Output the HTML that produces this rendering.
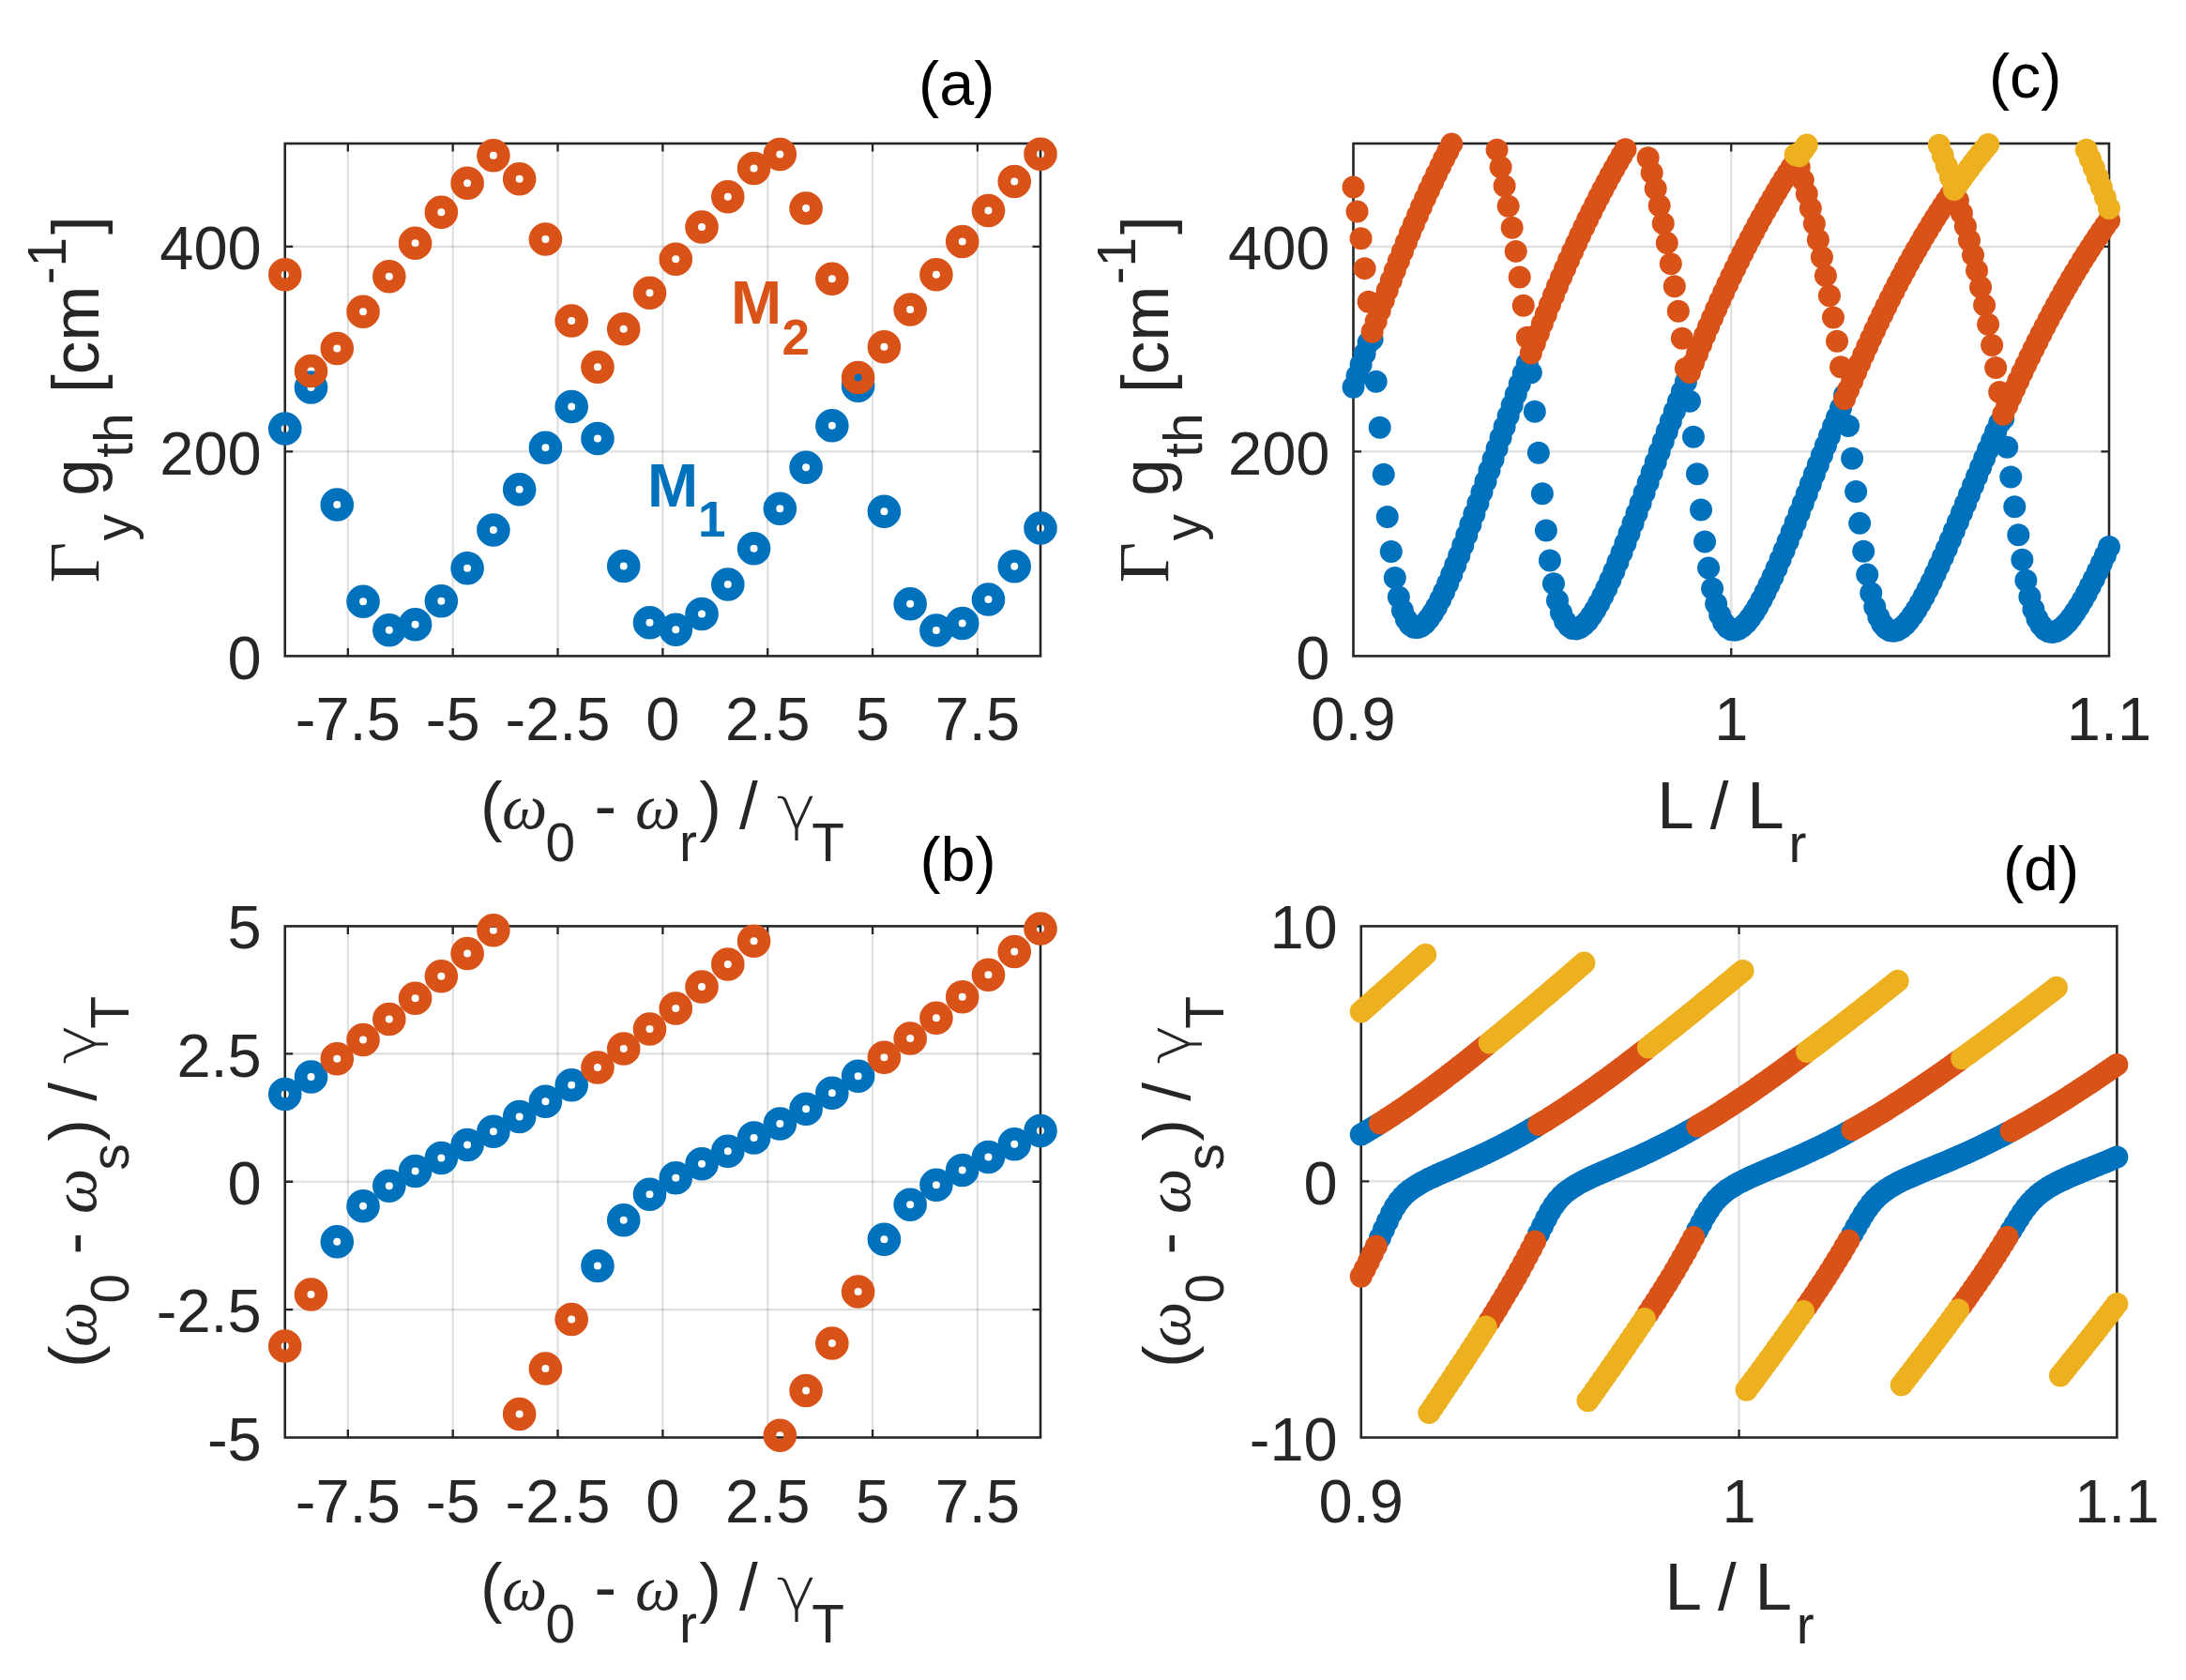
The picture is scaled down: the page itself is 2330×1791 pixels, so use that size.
<!DOCTYPE html><html><head><meta charset="utf-8"><title>Figure</title><style>html,body{margin:0;padding:0;background:#fff}svg{display:block}</style></head><body><svg width="2330" height="1791" viewBox="0 0 2330 1791">
<style>text{font-family:"Liberation Sans",Arial,Helvetica,sans-serif;fill:#262626}.tk{font-size:65px}.lb{font-size:70.4px}.sb{font-size:56.3px}.gr{font-family:"Liberation Serif","DejaVu Serif",serif;font-style:italic}.pl{font-size:66.5px;fill:#000}</style>
<rect width="2330" height="1791" fill="#fff"/>
<path d="M370.85 153V699.4M482.69 153V699.4M594.53 153V699.4M706.38 153V699.4M818.22 153V699.4M930.06 153V699.4M1041.9 153V699.4" stroke="#262626" stroke-opacity="0.15" stroke-width="2.2" fill="none"/>
<path d="M303.75 481.3H1109M303.75 262.8H1109" stroke="#262626" stroke-opacity="0.15" stroke-width="2.2" fill="none"/>
<path d="M370.85 699.4v-8.5M370.85 153v8.5M482.69 699.4v-8.5M482.69 153v8.5M594.53 699.4v-8.5M594.53 153v8.5M706.38 699.4v-8.5M706.38 153v8.5M818.22 699.4v-8.5M818.22 153v8.5M930.06 699.4v-8.5M930.06 153v8.5M1041.9 699.4v-8.5M1041.9 153v8.5M303.75 481.3h8.5M1109 481.3h-8.5M303.75 262.8h8.5M1109 262.8h-8.5" stroke="#262626" stroke-width="2.3" fill="none"/>
<rect x="303.75" y="153" width="805.25" height="546.4" fill="none" stroke="#262626" stroke-width="2.6"/>
<text x="370.85" y="789.4" text-anchor="middle" class="tk">-7.5</text>
<text x="482.69" y="789.4" text-anchor="middle" class="tk">-5</text>
<text x="594.53" y="789.4" text-anchor="middle" class="tk">-2.5</text>
<text x="706.38" y="789.4" text-anchor="middle" class="tk">0</text>
<text x="818.22" y="789.4" text-anchor="middle" class="tk">2.5</text>
<text x="930.06" y="789.4" text-anchor="middle" class="tk">5</text>
<text x="1041.9" y="789.4" text-anchor="middle" class="tk">7.5</text>
<text x="278.75" y="724" text-anchor="end" class="tk">0</text>
<text x="278.75" y="505.5" text-anchor="end" class="tk">200</text>
<text x="278.75" y="287" text-anchor="end" class="tk">400</text>
<path d="M370.85 987.4V1532.5M482.69 987.4V1532.5M594.53 987.4V1532.5M706.38 987.4V1532.5M818.22 987.4V1532.5M930.06 987.4V1532.5M1041.9 987.4V1532.5" stroke="#262626" stroke-opacity="0.15" stroke-width="2.2" fill="none"/>
<path d="M303.75 1396.12H1109M303.75 1259.75H1109M303.75 1123.38H1109" stroke="#262626" stroke-opacity="0.15" stroke-width="2.2" fill="none"/>
<path d="M370.85 1532.5v-8.5M370.85 987.4v8.5M482.69 1532.5v-8.5M482.69 987.4v8.5M594.53 1532.5v-8.5M594.53 987.4v8.5M706.38 1532.5v-8.5M706.38 987.4v8.5M818.22 1532.5v-8.5M818.22 987.4v8.5M930.06 1532.5v-8.5M930.06 987.4v8.5M1041.9 1532.5v-8.5M1041.9 987.4v8.5M303.75 1396.12h8.5M1109 1396.12h-8.5M303.75 1259.75h8.5M1109 1259.75h-8.5M303.75 1123.38h8.5M1109 1123.38h-8.5" stroke="#262626" stroke-width="2.3" fill="none"/>
<rect x="303.75" y="987.4" width="805.25" height="545.1" fill="none" stroke="#262626" stroke-width="2.6"/>
<text x="370.85" y="1622.5" text-anchor="middle" class="tk">-7.5</text>
<text x="482.69" y="1622.5" text-anchor="middle" class="tk">-5</text>
<text x="594.53" y="1622.5" text-anchor="middle" class="tk">-2.5</text>
<text x="706.38" y="1622.5" text-anchor="middle" class="tk">0</text>
<text x="818.22" y="1622.5" text-anchor="middle" class="tk">2.5</text>
<text x="930.06" y="1622.5" text-anchor="middle" class="tk">5</text>
<text x="1041.9" y="1622.5" text-anchor="middle" class="tk">7.5</text>
<text x="278.75" y="1556.7" text-anchor="end" class="tk">-5</text>
<text x="278.75" y="1420.33" text-anchor="end" class="tk">-2.5</text>
<text x="278.75" y="1283.95" text-anchor="end" class="tk">0</text>
<text x="278.75" y="1147.58" text-anchor="end" class="tk">2.5</text>
<text x="278.75" y="1011.2" text-anchor="end" class="tk">5</text>
<path d="M1845.25 153V699.4" stroke="#262626" stroke-opacity="0.15" stroke-width="2.2" fill="none"/>
<path d="M1442.5 481.3H2248M1442.5 262.8H2248" stroke="#262626" stroke-opacity="0.15" stroke-width="2.2" fill="none"/>
<path d="M1845.25 699.4v-8.5M1845.25 153v8.5M1442.5 481.3h8.5M2248 481.3h-8.5M1442.5 262.8h8.5M2248 262.8h-8.5" stroke="#262626" stroke-width="2.3" fill="none"/>
<rect x="1442.5" y="153" width="805.5" height="546.4" fill="none" stroke="#262626" stroke-width="2.6"/>
<text x="1442.5" y="789.4" text-anchor="middle" class="tk">0.9</text>
<text x="1845.25" y="789.4" text-anchor="middle" class="tk">1</text>
<text x="2248" y="789.4" text-anchor="middle" class="tk">1.1</text>
<text x="1417.5" y="724" text-anchor="end" class="tk">0</text>
<text x="1417.5" y="505.5" text-anchor="end" class="tk">200</text>
<text x="1417.5" y="287" text-anchor="end" class="tk">400</text>
<path d="M1853.57 987.4V1532.5" stroke="#262626" stroke-opacity="0.15" stroke-width="2.2" fill="none"/>
<path d="M1450.75 1259.4H2256.4" stroke="#262626" stroke-opacity="0.15" stroke-width="2.2" fill="none"/>
<path d="M1853.57 1532.5v-8.5M1853.57 987.4v8.5M1450.75 1259.4h8.5M2256.4 1259.4h-8.5" stroke="#262626" stroke-width="2.3" fill="none"/>
<rect x="1450.75" y="987.4" width="805.65" height="545.1" fill="none" stroke="#262626" stroke-width="2.6"/>
<text x="1450.75" y="1622.5" text-anchor="middle" class="tk">0.9</text>
<text x="1853.57" y="1622.5" text-anchor="middle" class="tk">1</text>
<text x="2256.4" y="1622.5" text-anchor="middle" class="tk">1.1</text>
<text x="1425.75" y="1556.6" text-anchor="end" class="tk">-10</text>
<text x="1425.75" y="1283.6" text-anchor="end" class="tk">0</text>
<text x="1425.75" y="1010.6" text-anchor="end" class="tk">10</text>
<g fill="none" stroke="#0072BD" stroke-width="13.8"><circle cx="303.75" cy="457" r="10.9"/><circle cx="331.52" cy="413" r="10.9"/><circle cx="359.28" cy="538" r="10.9"/><circle cx="387.05" cy="641.25" r="10.9"/><circle cx="414.82" cy="671.75" r="10.9"/><circle cx="442.59" cy="665.75" r="10.9"/><circle cx="470.35" cy="640.75" r="10.9"/><circle cx="498.12" cy="605.75" r="10.9"/><circle cx="525.89" cy="565" r="10.9"/><circle cx="553.66" cy="521.75" r="10.9"/><circle cx="581.42" cy="477.25" r="10.9"/><circle cx="609.19" cy="433.5" r="10.9"/><circle cx="636.96" cy="467.5" r="10.9"/><circle cx="664.72" cy="603.5" r="10.9"/><circle cx="692.49" cy="663.75" r="10.9"/><circle cx="720.26" cy="671.25" r="10.9"/><circle cx="748.03" cy="654.5" r="10.9"/><circle cx="775.79" cy="623" r="10.9"/><circle cx="803.56" cy="584.75" r="10.9"/><circle cx="831.33" cy="542.25" r="10.9"/><circle cx="859.09" cy="498.25" r="10.9"/><circle cx="886.86" cy="453.75" r="10.9"/><circle cx="914.63" cy="411.25" r="10.9"/><circle cx="942.4" cy="545.25" r="10.9"/><circle cx="970.16" cy="643.75" r="10.9"/><circle cx="997.93" cy="672" r="10.9"/><circle cx="1025.7" cy="664.5" r="10.9"/><circle cx="1053.47" cy="639" r="10.9"/><circle cx="1081.23" cy="603.75" r="10.9"/><circle cx="1109" cy="563" r="10.9"/></g>
<g fill="none" stroke="#D95319" stroke-width="13.8"><circle cx="303.75" cy="292.75" r="10.9"/><circle cx="331.52" cy="395.5" r="10.9"/><circle cx="359.28" cy="371.5" r="10.9"/><circle cx="387.05" cy="332.25" r="10.9"/><circle cx="414.82" cy="294.75" r="10.9"/><circle cx="442.59" cy="259.25" r="10.9"/><circle cx="470.35" cy="226.25" r="10.9"/><circle cx="498.12" cy="195.25" r="10.9"/><circle cx="525.89" cy="165.75" r="10.9"/><circle cx="553.66" cy="190.75" r="10.9"/><circle cx="581.42" cy="255" r="10.9"/><circle cx="609.19" cy="342" r="10.9"/><circle cx="636.96" cy="391.25" r="10.9"/><circle cx="664.72" cy="350.75" r="10.9"/><circle cx="692.49" cy="312.25" r="10.9"/><circle cx="720.26" cy="276.25" r="10.9"/><circle cx="748.03" cy="242" r="10.9"/><circle cx="775.79" cy="209.75" r="10.9"/><circle cx="803.56" cy="179.5" r="10.9"/><circle cx="831.33" cy="164.5" r="10.9"/><circle cx="859.09" cy="222" r="10.9"/><circle cx="886.86" cy="297.25" r="10.9"/><circle cx="914.63" cy="402.5" r="10.9"/><circle cx="942.4" cy="369.75" r="10.9"/><circle cx="970.16" cy="330" r="10.9"/><circle cx="997.93" cy="292.75" r="10.9"/><circle cx="1025.7" cy="257.5" r="10.9"/><circle cx="1053.47" cy="224.5" r="10.9"/><circle cx="1081.23" cy="193.5" r="10.9"/><circle cx="1109" cy="164.25" r="10.9"/></g>
<g fill="none" stroke="#0072BD" stroke-width="13.8"><circle cx="303.75" cy="1166.5" r="10.9"/><circle cx="331.52" cy="1148" r="10.9"/><circle cx="359.28" cy="1323.75" r="10.9"/><circle cx="387.05" cy="1285.75" r="10.9"/><circle cx="414.82" cy="1264.25" r="10.9"/><circle cx="442.59" cy="1248.5" r="10.9"/><circle cx="470.35" cy="1234.5" r="10.9"/><circle cx="498.12" cy="1220.5" r="10.9"/><circle cx="525.89" cy="1206.25" r="10.9"/><circle cx="553.66" cy="1190.5" r="10.9"/><circle cx="581.42" cy="1174.25" r="10.9"/><circle cx="609.19" cy="1156.75" r="10.9"/><circle cx="636.96" cy="1349.5" r="10.9"/><circle cx="664.72" cy="1300.75" r="10.9"/><circle cx="692.49" cy="1273.25" r="10.9"/><circle cx="720.26" cy="1255.75" r="10.9"/><circle cx="748.03" cy="1240.75" r="10.9"/><circle cx="775.79" cy="1227.25" r="10.9"/><circle cx="803.56" cy="1213" r="10.9"/><circle cx="831.33" cy="1198" r="10.9"/><circle cx="859.09" cy="1182.25" r="10.9"/><circle cx="886.86" cy="1165.25" r="10.9"/><circle cx="914.63" cy="1147.25" r="10.9"/><circle cx="942.4" cy="1321.25" r="10.9"/><circle cx="970.16" cy="1284.25" r="10.9"/><circle cx="997.93" cy="1263.25" r="10.9"/><circle cx="1025.7" cy="1247.5" r="10.9"/><circle cx="1053.47" cy="1233.5" r="10.9"/><circle cx="1081.23" cy="1219.75" r="10.9"/><circle cx="1109" cy="1205.5" r="10.9"/></g>
<g fill="none" stroke="#D95319" stroke-width="13.8"><circle cx="303.75" cy="1435" r="10.9"/><circle cx="331.52" cy="1380" r="10.9"/><circle cx="359.28" cy="1128.75" r="10.9"/><circle cx="387.05" cy="1108.5" r="10.9"/><circle cx="414.82" cy="1086.5" r="10.9"/><circle cx="442.59" cy="1064.25" r="10.9"/><circle cx="470.35" cy="1040.75" r="10.9"/><circle cx="498.12" cy="1016.5" r="10.9"/><circle cx="525.89" cy="991.75" r="10.9"/><circle cx="553.66" cy="1507.5" r="10.9"/><circle cx="581.42" cy="1459" r="10.9"/><circle cx="609.19" cy="1406.5" r="10.9"/><circle cx="636.96" cy="1138" r="10.9"/><circle cx="664.72" cy="1118" r="10.9"/><circle cx="692.49" cy="1097" r="10.9"/><circle cx="720.26" cy="1075" r="10.9"/><circle cx="748.03" cy="1052" r="10.9"/><circle cx="775.79" cy="1028" r="10.9"/><circle cx="803.56" cy="1003.25" r="10.9"/><circle cx="831.33" cy="1530.25" r="10.9"/><circle cx="859.09" cy="1482.5" r="10.9"/><circle cx="886.86" cy="1432" r="10.9"/><circle cx="914.63" cy="1377" r="10.9"/><circle cx="942.4" cy="1127.25" r="10.9"/><circle cx="970.16" cy="1107" r="10.9"/><circle cx="997.93" cy="1085.25" r="10.9"/><circle cx="1025.7" cy="1062.75" r="10.9"/><circle cx="1053.47" cy="1039.25" r="10.9"/><circle cx="1081.23" cy="1014.5" r="10.9"/><circle cx="1109" cy="990" r="10.9"/></g>
<g fill="#0072BD"><circle cx="1442.5" cy="412.75" r="12.0"/><circle cx="1446.53" cy="400.68" r="12.0"/><circle cx="1450.56" cy="388.74" r="12.0"/><circle cx="1454.58" cy="376.95" r="12.0"/><circle cx="1458.61" cy="365.3" r="12.0"/><circle cx="1462.64" cy="361.83" r="12.0"/><circle cx="1466.66" cy="406.8" r="12.0"/><circle cx="1470.69" cy="455.84" r="12.0"/><circle cx="1474.72" cy="505.67" r="12.0"/><circle cx="1478.75" cy="551.04" r="12.0"/><circle cx="1482.78" cy="588.06" r="12.0"/><circle cx="1486.8" cy="616.11" r="12.0"/><circle cx="1490.83" cy="636.46" r="12.0"/><circle cx="1494.86" cy="650.69" r="12.0"/><circle cx="1498.88" cy="660.17" r="12.0"/><circle cx="1502.91" cy="665.92" r="12.0"/><circle cx="1506.94" cy="668.69" r="12.0"/><circle cx="1510.97" cy="669.05" r="12.0"/><circle cx="1515" cy="667.45" r="12.0"/><circle cx="1519.02" cy="664.2" r="12.0"/><circle cx="1523.05" cy="659.57" r="12.0"/><circle cx="1527.08" cy="653.78" r="12.0"/><circle cx="1531.11" cy="646.99" r="12.0"/><circle cx="1535.13" cy="639.35" r="12.0"/><circle cx="1539.16" cy="630.99" r="12.0"/><circle cx="1543.19" cy="622" r="12.0"/><circle cx="1547.22" cy="612.48" r="12.0"/><circle cx="1551.24" cy="602.5" r="12.0"/><circle cx="1555.27" cy="592.13" r="12.0"/><circle cx="1559.3" cy="581.44" r="12.0"/><circle cx="1563.33" cy="570.48" r="12.0"/><circle cx="1567.35" cy="559.3" r="12.0"/><circle cx="1571.38" cy="547.95" r="12.0"/><circle cx="1575.41" cy="536.46" r="12.0"/><circle cx="1579.44" cy="524.87" r="12.0"/><circle cx="1583.46" cy="513.21" r="12.0"/><circle cx="1587.49" cy="501.52" r="12.0"/><circle cx="1591.52" cy="489.82" r="12.0"/><circle cx="1595.55" cy="478.13" r="12.0"/><circle cx="1599.57" cy="466.48" r="12.0"/><circle cx="1603.6" cy="454.89" r="12.0"/><circle cx="1607.63" cy="443.37" r="12.0"/><circle cx="1611.66" cy="431.94" r="12.0"/><circle cx="1615.68" cy="420.62" r="12.0"/><circle cx="1619.71" cy="409.4" r="12.0"/><circle cx="1623.74" cy="398.32" r="12.0"/><circle cx="1627.77" cy="387.37" r="12.0"/><circle cx="1631.79" cy="397.32" r="12.0"/><circle cx="1635.82" cy="438.75" r="12.0"/><circle cx="1639.85" cy="482.76" r="12.0"/><circle cx="1643.88" cy="526.31" r="12.0"/><circle cx="1647.9" cy="565.43" r="12.0"/><circle cx="1651.93" cy="597.5" r="12.0"/><circle cx="1655.96" cy="622.17" r="12.0"/><circle cx="1659.99" cy="640.36" r="12.0"/><circle cx="1664.01" cy="653.28" r="12.0"/><circle cx="1668.04" cy="661.99" r="12.0"/><circle cx="1672.07" cy="667.35" r="12.0"/><circle cx="1676.1" cy="670" r="12.0"/><circle cx="1680.12" cy="670.44" r="12.0"/><circle cx="1684.15" cy="669.04" r="12.0"/><circle cx="1688.18" cy="666.11" r="12.0"/><circle cx="1692.2" cy="661.9" r="12.0"/><circle cx="1696.23" cy="656.58" r="12.0"/><circle cx="1700.26" cy="650.32" r="12.0"/><circle cx="1704.29" cy="643.26" r="12.0"/><circle cx="1708.31" cy="635.51" r="12.0"/><circle cx="1712.34" cy="627.16" r="12.0"/><circle cx="1716.37" cy="618.31" r="12.0"/><circle cx="1720.4" cy="609.02" r="12.0"/><circle cx="1724.42" cy="599.36" r="12.0"/><circle cx="1728.45" cy="589.38" r="12.0"/><circle cx="1732.48" cy="579.15" r="12.0"/><circle cx="1736.51" cy="568.7" r="12.0"/><circle cx="1740.53" cy="558.08" r="12.0"/><circle cx="1744.56" cy="547.33" r="12.0"/><circle cx="1748.59" cy="536.48" r="12.0"/><circle cx="1752.62" cy="525.56" r="12.0"/><circle cx="1756.64" cy="514.6" r="12.0"/><circle cx="1760.67" cy="503.62" r="12.0"/><circle cx="1764.7" cy="492.65" r="12.0"/><circle cx="1768.73" cy="481.71" r="12.0"/><circle cx="1772.75" cy="470.82" r="12.0"/><circle cx="1776.78" cy="460" r="12.0"/><circle cx="1780.81" cy="449.25" r="12.0"/><circle cx="1784.84" cy="438.59" r="12.0"/><circle cx="1788.86" cy="428.04" r="12.0"/><circle cx="1792.89" cy="417.6" r="12.0"/><circle cx="1796.92" cy="407.28" r="12.0"/><circle cx="1800.95" cy="427.78" r="12.0"/><circle cx="1804.97" cy="465.77" r="12.0"/><circle cx="1809" cy="505.21" r="12.0"/><circle cx="1813.03" cy="543.45" r="12.0"/><circle cx="1817.06" cy="577.52" r="12.0"/><circle cx="1821.08" cy="605.6" r="12.0"/><circle cx="1825.11" cy="627.48" r="12.0"/><circle cx="1829.14" cy="643.85" r="12.0"/><circle cx="1833.17" cy="655.62" r="12.0"/><circle cx="1837.19" cy="663.66" r="12.0"/><circle cx="1841.22" cy="668.67" r="12.0"/><circle cx="1845.25" cy="671.2" r="12.0"/><circle cx="1849.28" cy="671.7" r="12.0"/><circle cx="1853.3" cy="670.49" r="12.0"/><circle cx="1857.33" cy="667.85" r="12.0"/><circle cx="1861.36" cy="663.99" r="12.0"/><circle cx="1865.39" cy="659.1" r="12.0"/><circle cx="1869.41" cy="653.33" r="12.0"/><circle cx="1873.44" cy="646.79" r="12.0"/><circle cx="1877.47" cy="639.59" r="12.0"/><circle cx="1881.5" cy="631.82" r="12.0"/><circle cx="1885.52" cy="623.57" r="12.0"/><circle cx="1889.55" cy="614.9" r="12.0"/><circle cx="1893.58" cy="605.88" r="12.0"/><circle cx="1897.61" cy="596.56" r="12.0"/><circle cx="1901.63" cy="586.98" r="12.0"/><circle cx="1905.66" cy="577.19" r="12.0"/><circle cx="1909.69" cy="567.24" r="12.0"/><circle cx="1913.72" cy="557.16" r="12.0"/><circle cx="1917.74" cy="546.97" r="12.0"/><circle cx="1921.77" cy="536.72" r="12.0"/><circle cx="1925.8" cy="526.42" r="12.0"/><circle cx="1929.83" cy="516.1" r="12.0"/><circle cx="1933.85" cy="505.79" r="12.0"/><circle cx="1937.88" cy="495.49" r="12.0"/><circle cx="1941.91" cy="485.24" r="12.0"/><circle cx="1945.94" cy="475.04" r="12.0"/><circle cx="1949.96" cy="464.91" r="12.0"/><circle cx="1953.99" cy="454.86" r="12.0"/><circle cx="1958.02" cy="444.91" r="12.0"/><circle cx="1962.05" cy="435.06" r="12.0"/><circle cx="1966.07" cy="421.33" r="12.0"/><circle cx="1970.1" cy="454.02" r="12.0"/><circle cx="1974.13" cy="488.75" r="12.0"/><circle cx="1978.16" cy="524.1" r="12.0"/><circle cx="1982.18" cy="557.87" r="12.0"/><circle cx="1986.21" cy="587.8" r="12.0"/><circle cx="1990.24" cy="612.62" r="12.0"/><circle cx="1994.27" cy="632.17" r="12.0"/><circle cx="1998.29" cy="646.97" r="12.0"/><circle cx="2002.32" cy="657.74" r="12.0"/><circle cx="2006.35" cy="665.18" r="12.0"/><circle cx="2010.38" cy="669.88" r="12.0"/><circle cx="2014.4" cy="672.31" r="12.0"/><circle cx="2018.43" cy="672.85" r="12.0"/><circle cx="2022.46" cy="671.8" r="12.0"/><circle cx="2026.49" cy="669.42" r="12.0"/><circle cx="2030.51" cy="665.89" r="12.0"/><circle cx="2034.54" cy="661.39" r="12.0"/><circle cx="2038.57" cy="656.04" r="12.0"/><circle cx="2042.6" cy="649.97" r="12.0"/><circle cx="2046.62" cy="643.28" r="12.0"/><circle cx="2050.65" cy="636.04" r="12.0"/><circle cx="2054.68" cy="628.34" r="12.0"/><circle cx="2058.71" cy="620.23" r="12.0"/><circle cx="2062.73" cy="611.79" r="12.0"/><circle cx="2066.76" cy="603.05" r="12.0"/><circle cx="2070.79" cy="594.07" r="12.0"/><circle cx="2074.82" cy="584.89" r="12.0"/><circle cx="2078.84" cy="575.55" r="12.0"/><circle cx="2082.87" cy="566.07" r="12.0"/><circle cx="2086.9" cy="556.49" r="12.0"/><circle cx="2090.93" cy="546.85" r="12.0"/><circle cx="2094.95" cy="537.15" r="12.0"/><circle cx="2098.98" cy="527.43" r="12.0"/><circle cx="2103.01" cy="517.71" r="12.0"/><circle cx="2107.04" cy="508.01" r="12.0"/><circle cx="2111.07" cy="498.33" r="12.0"/><circle cx="2115.09" cy="488.71" r="12.0"/><circle cx="2119.12" cy="479.14" r="12.0"/><circle cx="2123.15" cy="469.65" r="12.0"/><circle cx="2127.18" cy="460.24" r="12.0"/><circle cx="2131.2" cy="450.93" r="12.0"/><circle cx="2135.23" cy="446.39" r="12.0"/><circle cx="2139.26" cy="476.7" r="12.0"/><circle cx="2143.28" cy="508.4" r="12.0"/><circle cx="2147.31" cy="540.16" r="12.0"/><circle cx="2151.34" cy="570.14" r="12.0"/><circle cx="2155.37" cy="596.66" r="12.0"/><circle cx="2159.39" cy="618.76" r="12.0"/><circle cx="2163.42" cy="636.33" r="12.0"/><circle cx="2167.45" cy="649.78" r="12.0"/><circle cx="2171.48" cy="659.68" r="12.0"/><circle cx="2175.51" cy="666.58" r="12.0"/><circle cx="2179.53" cy="671" r="12.0"/><circle cx="2183.56" cy="673.33" r="12.0"/><circle cx="2187.59" cy="673.91" r="12.0"/><circle cx="2191.61" cy="673.01" r="12.0"/><circle cx="2195.64" cy="670.85" r="12.0"/><circle cx="2199.67" cy="667.62" r="12.0"/><circle cx="2203.7" cy="663.46" r="12.0"/><circle cx="2207.72" cy="658.51" r="12.0"/><circle cx="2211.75" cy="652.86" r="12.0"/><circle cx="2215.78" cy="646.62" r="12.0"/><circle cx="2219.81" cy="639.87" r="12.0"/><circle cx="2223.84" cy="632.66" r="12.0"/><circle cx="2227.86" cy="625.07" r="12.0"/><circle cx="2231.89" cy="617.16" r="12.0"/><circle cx="2235.92" cy="608.96" r="12.0"/><circle cx="2239.95" cy="600.53" r="12.0"/><circle cx="2243.97" cy="591.89" r="12.0"/><circle cx="2248" cy="583.1" r="12.0"/></g>
<g fill="#D95319"><circle cx="1442.5" cy="199.46" r="12.0"/><circle cx="1446.53" cy="225.6" r="12.0"/><circle cx="1450.56" cy="254.3" r="12.0"/><circle cx="1454.58" cy="286.13" r="12.0"/><circle cx="1458.61" cy="321.74" r="12.0"/><circle cx="1462.64" cy="353.81" r="12.0"/><circle cx="1466.66" cy="342.48" r="12.0"/><circle cx="1470.69" cy="331.33" r="12.0"/><circle cx="1474.72" cy="320.35" r="12.0"/><circle cx="1478.75" cy="309.55" r="12.0"/><circle cx="1482.78" cy="298.93" r="12.0"/><circle cx="1486.8" cy="288.49" r="12.0"/><circle cx="1490.83" cy="278.24" r="12.0"/><circle cx="1494.86" cy="268.17" r="12.0"/><circle cx="1498.88" cy="258.29" r="12.0"/><circle cx="1502.91" cy="248.59" r="12.0"/><circle cx="1506.94" cy="239.08" r="12.0"/><circle cx="1510.97" cy="229.75" r="12.0"/><circle cx="1515" cy="220.59" r="12.0"/><circle cx="1519.02" cy="211.62" r="12.0"/><circle cx="1523.05" cy="202.83" r="12.0"/><circle cx="1527.08" cy="194.21" r="12.0"/><circle cx="1531.11" cy="185.76" r="12.0"/><circle cx="1535.13" cy="177.48" r="12.0"/><circle cx="1539.16" cy="169.36" r="12.0"/><circle cx="1543.19" cy="161.41" r="12.0"/><circle cx="1547.22" cy="153.62" r="12.0"/><circle cx="1595.55" cy="159.68" r="12.0"/><circle cx="1599.57" cy="178.34" r="12.0"/><circle cx="1603.6" cy="198.27" r="12.0"/><circle cx="1607.63" cy="219.65" r="12.0"/><circle cx="1611.66" cy="242.75" r="12.0"/><circle cx="1615.68" cy="267.88" r="12.0"/><circle cx="1619.71" cy="295.43" r="12.0"/><circle cx="1623.74" cy="325.86" r="12.0"/><circle cx="1627.77" cy="359.68" r="12.0"/><circle cx="1631.79" cy="376.56" r="12.0"/><circle cx="1635.82" cy="365.91" r="12.0"/><circle cx="1639.85" cy="355.41" r="12.0"/><circle cx="1643.88" cy="345.06" r="12.0"/><circle cx="1647.9" cy="334.89" r="12.0"/><circle cx="1651.93" cy="324.87" r="12.0"/><circle cx="1655.96" cy="315.03" r="12.0"/><circle cx="1659.99" cy="305.36" r="12.0"/><circle cx="1664.01" cy="295.85" r="12.0"/><circle cx="1668.04" cy="286.52" r="12.0"/><circle cx="1672.07" cy="277.35" r="12.0"/><circle cx="1676.1" cy="268.36" r="12.0"/><circle cx="1680.12" cy="259.53" r="12.0"/><circle cx="1684.15" cy="250.87" r="12.0"/><circle cx="1688.18" cy="242.38" r="12.0"/><circle cx="1692.2" cy="234.05" r="12.0"/><circle cx="1696.23" cy="225.88" r="12.0"/><circle cx="1700.26" cy="217.87" r="12.0"/><circle cx="1704.29" cy="210.01" r="12.0"/><circle cx="1708.31" cy="202.31" r="12.0"/><circle cx="1712.34" cy="194.76" r="12.0"/><circle cx="1716.37" cy="187.36" r="12.0"/><circle cx="1720.4" cy="180.11" r="12.0"/><circle cx="1724.42" cy="173" r="12.0"/><circle cx="1728.45" cy="166.03" r="12.0"/><circle cx="1732.48" cy="159.19" r="12.0"/><circle cx="1756.64" cy="168.29" r="12.0"/><circle cx="1760.67" cy="184.28" r="12.0"/><circle cx="1764.7" cy="201.2" r="12.0"/><circle cx="1768.73" cy="219.18" r="12.0"/><circle cx="1772.75" cy="238.36" r="12.0"/><circle cx="1776.78" cy="258.94" r="12.0"/><circle cx="1780.81" cy="281.16" r="12.0"/><circle cx="1784.84" cy="305.29" r="12.0"/><circle cx="1788.86" cy="331.66" r="12.0"/><circle cx="1792.89" cy="360.66" r="12.0"/><circle cx="1796.92" cy="392.63" r="12.0"/><circle cx="1800.95" cy="397.1" r="12.0"/><circle cx="1804.97" cy="387.05" r="12.0"/><circle cx="1809" cy="377.14" r="12.0"/><circle cx="1813.03" cy="367.38" r="12.0"/><circle cx="1817.06" cy="357.76" r="12.0"/><circle cx="1821.08" cy="348.3" r="12.0"/><circle cx="1825.11" cy="339" r="12.0"/><circle cx="1829.14" cy="329.85" r="12.0"/><circle cx="1833.17" cy="320.86" r="12.0"/><circle cx="1837.19" cy="312.02" r="12.0"/><circle cx="1841.22" cy="303.34" r="12.0"/><circle cx="1845.25" cy="294.82" r="12.0"/><circle cx="1849.28" cy="286.45" r="12.0"/><circle cx="1853.3" cy="278.24" r="12.0"/><circle cx="1857.33" cy="270.18" r="12.0"/><circle cx="1861.36" cy="262.28" r="12.0"/><circle cx="1865.39" cy="254.52" r="12.0"/><circle cx="1869.41" cy="246.91" r="12.0"/><circle cx="1873.44" cy="239.44" r="12.0"/><circle cx="1877.47" cy="232.12" r="12.0"/><circle cx="1881.5" cy="224.94" r="12.0"/><circle cx="1885.52" cy="217.9" r="12.0"/><circle cx="1889.55" cy="211" r="12.0"/><circle cx="1893.58" cy="204.22" r="12.0"/><circle cx="1897.61" cy="197.58" r="12.0"/><circle cx="1901.63" cy="191.07" r="12.0"/><circle cx="1905.66" cy="184.68" r="12.0"/><circle cx="1909.69" cy="178.42" r="12.0"/><circle cx="1913.72" cy="172.27" r="12.0"/><circle cx="1917.74" cy="178.17" r="12.0"/><circle cx="1921.77" cy="192.09" r="12.0"/><circle cx="1925.8" cy="206.71" r="12.0"/><circle cx="1929.83" cy="222.12" r="12.0"/><circle cx="1933.85" cy="238.41" r="12.0"/><circle cx="1937.88" cy="255.73" r="12.0"/><circle cx="1941.91" cy="274.2" r="12.0"/><circle cx="1945.94" cy="294" r="12.0"/><circle cx="1949.96" cy="315.34" r="12.0"/><circle cx="1953.99" cy="338.47" r="12.0"/><circle cx="1958.02" cy="363.67" r="12.0"/><circle cx="1962.05" cy="391.21" r="12.0"/><circle cx="1966.07" cy="425.32" r="12.0"/><circle cx="1970.1" cy="415.7" r="12.0"/><circle cx="1974.13" cy="406.2" r="12.0"/><circle cx="1978.16" cy="396.83" r="12.0"/><circle cx="1982.18" cy="387.6" r="12.0"/><circle cx="1986.21" cy="378.5" r="12.0"/><circle cx="1990.24" cy="369.54" r="12.0"/><circle cx="1994.27" cy="360.73" r="12.0"/><circle cx="1998.29" cy="352.06" r="12.0"/><circle cx="2002.32" cy="343.53" r="12.0"/><circle cx="2006.35" cy="335.15" r="12.0"/><circle cx="2010.38" cy="326.92" r="12.0"/><circle cx="2014.4" cy="318.83" r="12.0"/><circle cx="2018.43" cy="310.88" r="12.0"/><circle cx="2022.46" cy="303.08" r="12.0"/><circle cx="2026.49" cy="295.42" r="12.0"/><circle cx="2030.51" cy="287.9" r="12.0"/><circle cx="2034.54" cy="280.52" r="12.0"/><circle cx="2038.57" cy="273.28" r="12.0"/><circle cx="2042.6" cy="266.17" r="12.0"/><circle cx="2046.62" cy="259.2" r="12.0"/><circle cx="2050.65" cy="252.36" r="12.0"/><circle cx="2054.68" cy="245.65" r="12.0"/><circle cx="2058.71" cy="239.06" r="12.0"/><circle cx="2062.73" cy="232.6" r="12.0"/><circle cx="2066.76" cy="226.26" r="12.0"/><circle cx="2070.79" cy="220.05" r="12.0"/><circle cx="2074.82" cy="213.95" r="12.0"/><circle cx="2078.84" cy="207.96" r="12.0"/><circle cx="2082.87" cy="201.03" r="12.0"/><circle cx="2086.9" cy="213.83" r="12.0"/><circle cx="2090.93" cy="227.24" r="12.0"/><circle cx="2094.95" cy="241.32" r="12.0"/><circle cx="2098.98" cy="256.17" r="12.0"/><circle cx="2103.01" cy="271.88" r="12.0"/><circle cx="2107.04" cy="288.55" r="12.0"/><circle cx="2111.07" cy="306.33" r="12.0"/><circle cx="2115.09" cy="325.37" r="12.0"/><circle cx="2119.12" cy="345.86" r="12.0"/><circle cx="2123.15" cy="368" r="12.0"/><circle cx="2127.18" cy="392.01" r="12.0"/><circle cx="2131.2" cy="418.11" r="12.0"/><circle cx="2135.23" cy="441.71" r="12.0"/><circle cx="2139.26" cy="432.61" r="12.0"/><circle cx="2143.28" cy="423.61" r="12.0"/><circle cx="2147.31" cy="414.74" r="12.0"/><circle cx="2151.34" cy="405.99" r="12.0"/><circle cx="2155.37" cy="397.36" r="12.0"/><circle cx="2159.39" cy="388.87" r="12.0"/><circle cx="2163.42" cy="380.5" r="12.0"/><circle cx="2167.45" cy="372.27" r="12.0"/><circle cx="2171.48" cy="364.17" r="12.0"/><circle cx="2175.51" cy="356.21" r="12.0"/><circle cx="2179.53" cy="348.38" r="12.0"/><circle cx="2183.56" cy="340.69" r="12.0"/><circle cx="2187.59" cy="333.13" r="12.0"/><circle cx="2191.61" cy="325.71" r="12.0"/><circle cx="2195.64" cy="318.41" r="12.0"/><circle cx="2199.67" cy="311.25" r="12.0"/><circle cx="2203.7" cy="304.22" r="12.0"/><circle cx="2207.72" cy="297.32" r="12.0"/><circle cx="2211.75" cy="290.54" r="12.0"/><circle cx="2215.78" cy="283.89" r="12.0"/><circle cx="2219.81" cy="277.36" r="12.0"/><circle cx="2223.84" cy="270.95" r="12.0"/><circle cx="2227.86" cy="264.66" r="12.0"/><circle cx="2231.89" cy="258.49" r="12.0"/><circle cx="2235.92" cy="252.43" r="12.0"/><circle cx="2239.95" cy="246.48" r="12.0"/><circle cx="2243.97" cy="240.65" r="12.0"/><circle cx="2248" cy="234.92" r="12.0"/></g>
<g fill="#EDB120"><circle cx="1913.72" cy="164.89" r="12.0"/><circle cx="1917.74" cy="166.24" r="12.0"/><circle cx="1921.77" cy="160.33" r="12.0"/><circle cx="1925.8" cy="154.54" r="12.0"/><circle cx="2066.76" cy="154.83" r="12.0"/><circle cx="2070.79" cy="165.72" r="12.0"/><circle cx="2074.82" cy="177.02" r="12.0"/><circle cx="2078.84" cy="188.78" r="12.0"/><circle cx="2082.87" cy="202.09" r="12.0"/><circle cx="2086.9" cy="196.33" r="12.0"/><circle cx="2090.93" cy="190.67" r="12.0"/><circle cx="2094.95" cy="185.12" r="12.0"/><circle cx="2098.98" cy="179.68" r="12.0"/><circle cx="2103.01" cy="174.34" r="12.0"/><circle cx="2107.04" cy="169.09" r="12.0"/><circle cx="2111.07" cy="163.95" r="12.0"/><circle cx="2115.09" cy="158.89" r="12.0"/><circle cx="2119.12" cy="153.93" r="12.0"/><circle cx="2223.84" cy="159.84" r="12.0"/><circle cx="2227.86" cy="169.32" r="12.0"/><circle cx="2231.89" cy="179.1" r="12.0"/><circle cx="2235.92" cy="189.23" r="12.0"/><circle cx="2239.95" cy="199.72" r="12.0"/><circle cx="2243.97" cy="210.62" r="12.0"/><circle cx="2248" cy="221.95" r="12.0"/></g>
<g fill="#0072BD"><circle cx="1450.75" cy="1209.51" r="12.0"/><circle cx="1454.78" cy="1207.18" r="12.0"/><circle cx="1458.81" cy="1204.8" r="12.0"/><circle cx="1462.83" cy="1202.38" r="12.0"/><circle cx="1466.86" cy="1199.93" r="12.0"/><circle cx="1470.89" cy="1319.68" r="12.0"/><circle cx="1474.92" cy="1310.77" r="12.0"/><circle cx="1478.95" cy="1301.92" r="12.0"/><circle cx="1482.98" cy="1293.63" r="12.0"/><circle cx="1487" cy="1286.42" r="12.0"/><circle cx="1491.03" cy="1280.52" r="12.0"/><circle cx="1495.06" cy="1275.76" r="12.0"/><circle cx="1499.09" cy="1271.86" r="12.0"/><circle cx="1503.12" cy="1268.57" r="12.0"/><circle cx="1507.15" cy="1265.7" r="12.0"/><circle cx="1511.17" cy="1263.15" r="12.0"/><circle cx="1515.2" cy="1260.82" r="12.0"/><circle cx="1519.23" cy="1258.65" r="12.0"/><circle cx="1523.26" cy="1256.62" r="12.0"/><circle cx="1527.29" cy="1254.67" r="12.0"/><circle cx="1531.32" cy="1252.79" r="12.0"/><circle cx="1535.34" cy="1250.96" r="12.0"/><circle cx="1539.37" cy="1249.17" r="12.0"/><circle cx="1543.4" cy="1247.4" r="12.0"/><circle cx="1547.43" cy="1245.64" r="12.0"/><circle cx="1551.46" cy="1243.89" r="12.0"/><circle cx="1555.48" cy="1242.13" r="12.0"/><circle cx="1559.51" cy="1240.37" r="12.0"/><circle cx="1563.54" cy="1238.6" r="12.0"/><circle cx="1567.57" cy="1236.8" r="12.0"/><circle cx="1571.6" cy="1234.99" r="12.0"/><circle cx="1575.63" cy="1233.15" r="12.0"/><circle cx="1579.65" cy="1231.28" r="12.0"/><circle cx="1583.68" cy="1229.39" r="12.0"/><circle cx="1587.71" cy="1227.46" r="12.0"/><circle cx="1591.74" cy="1225.5" r="12.0"/><circle cx="1595.77" cy="1223.5" r="12.0"/><circle cx="1599.8" cy="1221.47" r="12.0"/><circle cx="1603.82" cy="1219.4" r="12.0"/><circle cx="1607.85" cy="1217.29" r="12.0"/><circle cx="1611.88" cy="1215.15" r="12.0"/><circle cx="1615.91" cy="1212.97" r="12.0"/><circle cx="1619.94" cy="1210.75" r="12.0"/><circle cx="1623.96" cy="1208.49" r="12.0"/><circle cx="1627.99" cy="1206.19" r="12.0"/><circle cx="1632.02" cy="1203.85" r="12.0"/><circle cx="1636.05" cy="1201.48" r="12.0"/><circle cx="1640.08" cy="1315.29" r="12.0"/><circle cx="1644.11" cy="1307.07" r="12.0"/><circle cx="1648.13" cy="1299.03" r="12.0"/><circle cx="1652.16" cy="1291.59" r="12.0"/><circle cx="1656.19" cy="1285.13" r="12.0"/><circle cx="1660.22" cy="1279.75" r="12.0"/><circle cx="1664.25" cy="1275.32" r="12.0"/><circle cx="1668.28" cy="1271.61" r="12.0"/><circle cx="1672.3" cy="1268.45" r="12.0"/><circle cx="1676.33" cy="1265.67" r="12.0"/><circle cx="1680.36" cy="1263.18" r="12.0"/><circle cx="1684.39" cy="1260.9" r="12.0"/><circle cx="1688.42" cy="1258.77" r="12.0"/><circle cx="1692.44" cy="1256.77" r="12.0"/><circle cx="1696.47" cy="1254.85" r="12.0"/><circle cx="1700.5" cy="1253" r="12.0"/><circle cx="1704.53" cy="1251.2" r="12.0"/><circle cx="1708.56" cy="1249.44" r="12.0"/><circle cx="1712.59" cy="1247.69" r="12.0"/><circle cx="1716.61" cy="1245.96" r="12.0"/><circle cx="1720.64" cy="1244.24" r="12.0"/><circle cx="1724.67" cy="1242.52" r="12.0"/><circle cx="1728.7" cy="1240.79" r="12.0"/><circle cx="1732.73" cy="1239.05" r="12.0"/><circle cx="1736.76" cy="1237.29" r="12.0"/><circle cx="1740.78" cy="1235.51" r="12.0"/><circle cx="1744.81" cy="1233.71" r="12.0"/><circle cx="1748.84" cy="1231.89" r="12.0"/><circle cx="1752.87" cy="1230.04" r="12.0"/><circle cx="1756.9" cy="1228.16" r="12.0"/><circle cx="1760.93" cy="1226.25" r="12.0"/><circle cx="1764.95" cy="1224.3" r="12.0"/><circle cx="1768.98" cy="1222.33" r="12.0"/><circle cx="1773.01" cy="1220.32" r="12.0"/><circle cx="1777.04" cy="1218.27" r="12.0"/><circle cx="1781.07" cy="1216.19" r="12.0"/><circle cx="1785.09" cy="1214.07" r="12.0"/><circle cx="1789.12" cy="1211.92" r="12.0"/><circle cx="1793.15" cy="1209.73" r="12.0"/><circle cx="1797.18" cy="1207.5" r="12.0"/><circle cx="1801.21" cy="1205.24" r="12.0"/><circle cx="1805.24" cy="1202.95" r="12.0"/><circle cx="1809.26" cy="1311.52" r="12.0"/><circle cx="1813.29" cy="1303.94" r="12.0"/><circle cx="1817.32" cy="1296.61" r="12.0"/><circle cx="1821.35" cy="1289.89" r="12.0"/><circle cx="1825.38" cy="1284.02" r="12.0"/><circle cx="1829.41" cy="1279.06" r="12.0"/><circle cx="1833.43" cy="1274.91" r="12.0"/><circle cx="1837.46" cy="1271.39" r="12.0"/><circle cx="1841.49" cy="1268.34" r="12.0"/><circle cx="1845.52" cy="1265.64" r="12.0"/><circle cx="1849.55" cy="1263.21" r="12.0"/><circle cx="1853.57" cy="1260.97" r="12.0"/><circle cx="1857.6" cy="1258.89" r="12.0"/><circle cx="1861.63" cy="1256.92" r="12.0"/><circle cx="1865.66" cy="1255.03" r="12.0"/><circle cx="1869.69" cy="1253.21" r="12.0"/><circle cx="1873.72" cy="1251.43" r="12.0"/><circle cx="1877.74" cy="1249.69" r="12.0"/><circle cx="1881.77" cy="1247.98" r="12.0"/><circle cx="1885.8" cy="1246.28" r="12.0"/><circle cx="1889.83" cy="1244.58" r="12.0"/><circle cx="1893.86" cy="1242.89" r="12.0"/><circle cx="1897.89" cy="1241.19" r="12.0"/><circle cx="1901.91" cy="1239.48" r="12.0"/><circle cx="1905.94" cy="1237.76" r="12.0"/><circle cx="1909.97" cy="1236.02" r="12.0"/><circle cx="1914" cy="1234.26" r="12.0"/><circle cx="1918.03" cy="1232.47" r="12.0"/><circle cx="1922.06" cy="1230.66" r="12.0"/><circle cx="1926.08" cy="1228.83" r="12.0"/><circle cx="1930.11" cy="1226.96" r="12.0"/><circle cx="1934.14" cy="1225.07" r="12.0"/><circle cx="1938.17" cy="1223.15" r="12.0"/><circle cx="1942.2" cy="1221.19" r="12.0"/><circle cx="1946.22" cy="1219.2" r="12.0"/><circle cx="1950.25" cy="1217.18" r="12.0"/><circle cx="1954.28" cy="1215.12" r="12.0"/><circle cx="1958.31" cy="1213.03" r="12.0"/><circle cx="1962.34" cy="1210.9" r="12.0"/><circle cx="1966.37" cy="1208.75" r="12.0"/><circle cx="1970.39" cy="1206.56" r="12.0"/><circle cx="1974.42" cy="1315.37" r="12.0"/><circle cx="1978.45" cy="1308.27" r="12.0"/><circle cx="1982.48" cy="1301.26" r="12.0"/><circle cx="1986.51" cy="1294.56" r="12.0"/><circle cx="1990.54" cy="1288.43" r="12.0"/><circle cx="1994.56" cy="1283.05" r="12.0"/><circle cx="1998.59" cy="1278.45" r="12.0"/><circle cx="2002.62" cy="1274.54" r="12.0"/><circle cx="2006.65" cy="1271.17" r="12.0"/><circle cx="2010.68" cy="1268.23" r="12.0"/><circle cx="2014.7" cy="1265.62" r="12.0"/><circle cx="2018.73" cy="1263.24" r="12.0"/><circle cx="2022.76" cy="1261.05" r="12.0"/><circle cx="2026.79" cy="1259" r="12.0"/><circle cx="2030.82" cy="1257.06" r="12.0"/><circle cx="2034.85" cy="1255.2" r="12.0"/><circle cx="2038.87" cy="1253.4" r="12.0"/><circle cx="2042.9" cy="1251.66" r="12.0"/><circle cx="2046.93" cy="1249.94" r="12.0"/><circle cx="2050.96" cy="1248.25" r="12.0"/><circle cx="2054.99" cy="1246.58" r="12.0"/><circle cx="2059.02" cy="1244.91" r="12.0"/><circle cx="2063.04" cy="1243.24" r="12.0"/><circle cx="2067.07" cy="1241.58" r="12.0"/><circle cx="2071.1" cy="1239.9" r="12.0"/><circle cx="2075.13" cy="1238.21" r="12.0"/><circle cx="2079.16" cy="1236.5" r="12.0"/><circle cx="2083.19" cy="1234.78" r="12.0"/><circle cx="2087.21" cy="1233.03" r="12.0"/><circle cx="2091.24" cy="1231.26" r="12.0"/><circle cx="2095.27" cy="1229.47" r="12.0"/><circle cx="2099.3" cy="1227.65" r="12.0"/><circle cx="2103.33" cy="1225.8" r="12.0"/><circle cx="2107.35" cy="1223.93" r="12.0"/><circle cx="2111.38" cy="1222.02" r="12.0"/><circle cx="2115.41" cy="1220.08" r="12.0"/><circle cx="2119.44" cy="1218.11" r="12.0"/><circle cx="2123.47" cy="1216.12" r="12.0"/><circle cx="2127.5" cy="1214.08" r="12.0"/><circle cx="2131.52" cy="1212.02" r="12.0"/><circle cx="2135.55" cy="1209.93" r="12.0"/><circle cx="2139.58" cy="1207.8" r="12.0"/><circle cx="2143.61" cy="1312.08" r="12.0"/><circle cx="2147.64" cy="1305.45" r="12.0"/><circle cx="2151.67" cy="1298.96" r="12.0"/><circle cx="2155.69" cy="1292.8" r="12.0"/><circle cx="2159.72" cy="1287.17" r="12.0"/><circle cx="2163.75" cy="1282.2" r="12.0"/><circle cx="2167.78" cy="1277.9" r="12.0"/><circle cx="2171.81" cy="1274.2" r="12.0"/><circle cx="2175.84" cy="1270.98" r="12.0"/><circle cx="2179.86" cy="1268.14" r="12.0"/><circle cx="2183.89" cy="1265.59" r="12.0"/><circle cx="2187.92" cy="1263.27" r="12.0"/><circle cx="2191.95" cy="1261.12" r="12.0"/><circle cx="2195.98" cy="1259.11" r="12.0"/><circle cx="2200" cy="1257.2" r="12.0"/><circle cx="2204.03" cy="1255.37" r="12.0"/><circle cx="2208.06" cy="1253.6" r="12.0"/><circle cx="2212.09" cy="1251.87" r="12.0"/><circle cx="2216.12" cy="1250.18" r="12.0"/><circle cx="2220.15" cy="1248.52" r="12.0"/><circle cx="2224.17" cy="1246.87" r="12.0"/><circle cx="2228.2" cy="1245.23" r="12.0"/><circle cx="2232.23" cy="1243.59" r="12.0"/><circle cx="2236.26" cy="1241.95" r="12.0"/><circle cx="2240.29" cy="1240.3" r="12.0"/><circle cx="2244.32" cy="1238.64" r="12.0"/><circle cx="2248.34" cy="1236.97" r="12.0"/><circle cx="2252.37" cy="1235.28" r="12.0"/><circle cx="2256.4" cy="1233.57" r="12.0"/></g>
<g fill="#D95319"><circle cx="1450.75" cy="1360.64" r="12.0"/><circle cx="1454.78" cy="1352.92" r="12.0"/><circle cx="1458.81" cy="1345" r="12.0"/><circle cx="1462.83" cy="1336.83" r="12.0"/><circle cx="1466.86" cy="1328.39" r="12.0"/><circle cx="1470.89" cy="1197.43" r="12.0"/><circle cx="1474.92" cy="1194.89" r="12.0"/><circle cx="1478.95" cy="1192.32" r="12.0"/><circle cx="1482.98" cy="1189.71" r="12.0"/><circle cx="1487" cy="1187.06" r="12.0"/><circle cx="1491.03" cy="1184.37" r="12.0"/><circle cx="1495.06" cy="1181.65" r="12.0"/><circle cx="1499.09" cy="1178.9" r="12.0"/><circle cx="1503.12" cy="1176.11" r="12.0"/><circle cx="1507.15" cy="1173.29" r="12.0"/><circle cx="1511.17" cy="1170.44" r="12.0"/><circle cx="1515.2" cy="1167.56" r="12.0"/><circle cx="1519.23" cy="1164.65" r="12.0"/><circle cx="1523.26" cy="1161.71" r="12.0"/><circle cx="1527.29" cy="1158.74" r="12.0"/><circle cx="1531.32" cy="1155.75" r="12.0"/><circle cx="1535.34" cy="1152.73" r="12.0"/><circle cx="1539.37" cy="1149.69" r="12.0"/><circle cx="1543.4" cy="1146.62" r="12.0"/><circle cx="1547.43" cy="1143.53" r="12.0"/><circle cx="1551.46" cy="1140.42" r="12.0"/><circle cx="1555.48" cy="1137.29" r="12.0"/><circle cx="1559.51" cy="1134.14" r="12.0"/><circle cx="1563.54" cy="1130.97" r="12.0"/><circle cx="1567.57" cy="1127.78" r="12.0"/><circle cx="1571.6" cy="1124.57" r="12.0"/><circle cx="1575.63" cy="1121.35" r="12.0"/><circle cx="1579.65" cy="1118.11" r="12.0"/><circle cx="1583.68" cy="1114.85" r="12.0"/><circle cx="1587.71" cy="1408.13" r="12.0"/><circle cx="1591.74" cy="1401.67" r="12.0"/><circle cx="1595.77" cy="1395.15" r="12.0"/><circle cx="1599.8" cy="1388.55" r="12.0"/><circle cx="1603.82" cy="1381.87" r="12.0"/><circle cx="1607.85" cy="1375.08" r="12.0"/><circle cx="1611.88" cy="1368.19" r="12.0"/><circle cx="1615.91" cy="1361.16" r="12.0"/><circle cx="1619.94" cy="1353.99" r="12.0"/><circle cx="1623.96" cy="1346.65" r="12.0"/><circle cx="1627.99" cy="1339.12" r="12.0"/><circle cx="1632.02" cy="1331.38" r="12.0"/><circle cx="1636.05" cy="1323.43" r="12.0"/><circle cx="1640.08" cy="1199.07" r="12.0"/><circle cx="1644.11" cy="1196.62" r="12.0"/><circle cx="1648.13" cy="1194.14" r="12.0"/><circle cx="1652.16" cy="1191.62" r="12.0"/><circle cx="1656.19" cy="1189.07" r="12.0"/><circle cx="1660.22" cy="1186.48" r="12.0"/><circle cx="1664.25" cy="1183.86" r="12.0"/><circle cx="1668.28" cy="1181.21" r="12.0"/><circle cx="1672.3" cy="1178.52" r="12.0"/><circle cx="1676.33" cy="1175.81" r="12.0"/><circle cx="1680.36" cy="1173.06" r="12.0"/><circle cx="1684.39" cy="1170.29" r="12.0"/><circle cx="1688.42" cy="1167.49" r="12.0"/><circle cx="1692.44" cy="1164.67" r="12.0"/><circle cx="1696.47" cy="1161.82" r="12.0"/><circle cx="1700.5" cy="1158.94" r="12.0"/><circle cx="1704.53" cy="1156.04" r="12.0"/><circle cx="1708.56" cy="1153.11" r="12.0"/><circle cx="1712.59" cy="1150.17" r="12.0"/><circle cx="1716.61" cy="1147.2" r="12.0"/><circle cx="1720.64" cy="1144.21" r="12.0"/><circle cx="1724.67" cy="1141.2" r="12.0"/><circle cx="1728.7" cy="1138.18" r="12.0"/><circle cx="1732.73" cy="1135.13" r="12.0"/><circle cx="1736.76" cy="1132.07" r="12.0"/><circle cx="1740.78" cy="1128.99" r="12.0"/><circle cx="1744.81" cy="1125.89" r="12.0"/><circle cx="1748.84" cy="1122.78" r="12.0"/><circle cx="1752.87" cy="1119.66" r="12.0"/><circle cx="1756.9" cy="1399.78" r="12.0"/><circle cx="1760.93" cy="1393.61" r="12.0"/><circle cx="1764.95" cy="1387.38" r="12.0"/><circle cx="1768.98" cy="1381.07" r="12.0"/><circle cx="1773.01" cy="1374.69" r="12.0"/><circle cx="1777.04" cy="1368.21" r="12.0"/><circle cx="1781.07" cy="1361.62" r="12.0"/><circle cx="1785.09" cy="1354.92" r="12.0"/><circle cx="1789.12" cy="1348.08" r="12.0"/><circle cx="1793.15" cy="1341.09" r="12.0"/><circle cx="1797.18" cy="1333.94" r="12.0"/><circle cx="1801.21" cy="1326.61" r="12.0"/><circle cx="1805.24" cy="1319.12" r="12.0"/><circle cx="1809.26" cy="1200.62" r="12.0"/><circle cx="1813.29" cy="1198.25" r="12.0"/><circle cx="1817.32" cy="1195.85" r="12.0"/><circle cx="1821.35" cy="1193.42" r="12.0"/><circle cx="1825.38" cy="1190.95" r="12.0"/><circle cx="1829.41" cy="1188.46" r="12.0"/><circle cx="1833.43" cy="1185.93" r="12.0"/><circle cx="1837.46" cy="1183.37" r="12.0"/><circle cx="1841.49" cy="1180.78" r="12.0"/><circle cx="1845.52" cy="1178.17" r="12.0"/><circle cx="1849.55" cy="1175.52" r="12.0"/><circle cx="1853.57" cy="1172.85" r="12.0"/><circle cx="1857.6" cy="1170.16" r="12.0"/><circle cx="1861.63" cy="1167.44" r="12.0"/><circle cx="1865.66" cy="1164.69" r="12.0"/><circle cx="1869.69" cy="1161.92" r="12.0"/><circle cx="1873.72" cy="1159.13" r="12.0"/><circle cx="1877.74" cy="1156.31" r="12.0"/><circle cx="1881.77" cy="1153.48" r="12.0"/><circle cx="1885.8" cy="1150.62" r="12.0"/><circle cx="1889.83" cy="1147.75" r="12.0"/><circle cx="1893.86" cy="1144.85" r="12.0"/><circle cx="1897.89" cy="1141.94" r="12.0"/><circle cx="1901.91" cy="1139.01" r="12.0"/><circle cx="1905.94" cy="1136.06" r="12.0"/><circle cx="1909.97" cy="1133.1" r="12.0"/><circle cx="1914" cy="1130.12" r="12.0"/><circle cx="1918.03" cy="1127.13" r="12.0"/><circle cx="1922.06" cy="1124.13" r="12.0"/><circle cx="1926.08" cy="1392.23" r="12.0"/><circle cx="1930.11" cy="1386.33" r="12.0"/><circle cx="1934.14" cy="1380.37" r="12.0"/><circle cx="1938.17" cy="1374.33" r="12.0"/><circle cx="1942.2" cy="1368.22" r="12.0"/><circle cx="1946.22" cy="1362.02" r="12.0"/><circle cx="1950.25" cy="1355.73" r="12.0"/><circle cx="1954.28" cy="1349.33" r="12.0"/><circle cx="1958.31" cy="1342.8" r="12.0"/><circle cx="1962.34" cy="1336.15" r="12.0"/><circle cx="1966.37" cy="1329.35" r="12.0"/><circle cx="1970.39" cy="1322.42" r="12.0"/><circle cx="1974.42" cy="1204.33" r="12.0"/><circle cx="1978.45" cy="1202.08" r="12.0"/><circle cx="1982.48" cy="1199.79" r="12.0"/><circle cx="1986.51" cy="1197.47" r="12.0"/><circle cx="1990.54" cy="1195.11" r="12.0"/><circle cx="1994.56" cy="1192.73" r="12.0"/><circle cx="1998.59" cy="1190.32" r="12.0"/><circle cx="2002.62" cy="1187.88" r="12.0"/><circle cx="2006.65" cy="1185.41" r="12.0"/><circle cx="2010.68" cy="1182.91" r="12.0"/><circle cx="2014.7" cy="1180.38" r="12.0"/><circle cx="2018.73" cy="1177.83" r="12.0"/><circle cx="2022.76" cy="1175.25" r="12.0"/><circle cx="2026.79" cy="1172.65" r="12.0"/><circle cx="2030.82" cy="1170.03" r="12.0"/><circle cx="2034.85" cy="1167.38" r="12.0"/><circle cx="2038.87" cy="1164.71" r="12.0"/><circle cx="2042.9" cy="1162.02" r="12.0"/><circle cx="2046.93" cy="1159.3" r="12.0"/><circle cx="2050.96" cy="1156.57" r="12.0"/><circle cx="2054.99" cy="1153.82" r="12.0"/><circle cx="2059.02" cy="1151.05" r="12.0"/><circle cx="2063.04" cy="1148.26" r="12.0"/><circle cx="2067.07" cy="1145.45" r="12.0"/><circle cx="2071.1" cy="1142.63" r="12.0"/><circle cx="2075.13" cy="1139.79" r="12.0"/><circle cx="2079.16" cy="1136.94" r="12.0"/><circle cx="2083.19" cy="1134.07" r="12.0"/><circle cx="2087.21" cy="1131.19" r="12.0"/><circle cx="2091.24" cy="1391" r="12.0"/><circle cx="2095.27" cy="1385.39" r="12.0"/><circle cx="2099.3" cy="1379.74" r="12.0"/><circle cx="2103.33" cy="1374.02" r="12.0"/><circle cx="2107.35" cy="1368.24" r="12.0"/><circle cx="2111.38" cy="1362.38" r="12.0"/><circle cx="2115.41" cy="1356.45" r="12.0"/><circle cx="2119.44" cy="1350.42" r="12.0"/><circle cx="2123.47" cy="1344.3" r="12.0"/><circle cx="2127.5" cy="1338.07" r="12.0"/><circle cx="2131.52" cy="1331.73" r="12.0"/><circle cx="2135.55" cy="1325.28" r="12.0"/><circle cx="2139.58" cy="1318.71" r="12.0"/><circle cx="2143.61" cy="1205.64" r="12.0"/><circle cx="2147.64" cy="1203.46" r="12.0"/><circle cx="2151.67" cy="1201.24" r="12.0"/><circle cx="2155.69" cy="1198.99" r="12.0"/><circle cx="2159.72" cy="1196.71" r="12.0"/><circle cx="2163.75" cy="1194.41" r="12.0"/><circle cx="2167.78" cy="1192.07" r="12.0"/><circle cx="2171.81" cy="1189.71" r="12.0"/><circle cx="2175.84" cy="1187.32" r="12.0"/><circle cx="2179.86" cy="1184.91" r="12.0"/><circle cx="2183.89" cy="1182.47" r="12.0"/><circle cx="2187.92" cy="1180" r="12.0"/><circle cx="2191.95" cy="1177.51" r="12.0"/><circle cx="2195.98" cy="1175" r="12.0"/><circle cx="2200" cy="1172.46" r="12.0"/><circle cx="2204.03" cy="1169.91" r="12.0"/><circle cx="2208.06" cy="1167.33" r="12.0"/><circle cx="2212.09" cy="1164.73" r="12.0"/><circle cx="2216.12" cy="1162.11" r="12.0"/><circle cx="2220.15" cy="1159.47" r="12.0"/><circle cx="2224.17" cy="1156.82" r="12.0"/><circle cx="2228.2" cy="1154.14" r="12.0"/><circle cx="2232.23" cy="1151.45" r="12.0"/><circle cx="2236.26" cy="1148.74" r="12.0"/><circle cx="2240.29" cy="1146.02" r="12.0"/><circle cx="2244.32" cy="1143.28" r="12.0"/><circle cx="2248.34" cy="1140.53" r="12.0"/><circle cx="2252.37" cy="1137.76" r="12.0"/><circle cx="2256.4" cy="1134.98" r="12.0"/></g>
<g fill="#EDB120"><circle cx="1450.75" cy="1078.48" r="12.0"/><circle cx="1454.78" cy="1074.96" r="12.0"/><circle cx="1458.81" cy="1071.43" r="12.0"/><circle cx="1462.83" cy="1067.89" r="12.0"/><circle cx="1466.86" cy="1064.34" r="12.0"/><circle cx="1470.89" cy="1060.78" r="12.0"/><circle cx="1474.92" cy="1057.22" r="12.0"/><circle cx="1478.95" cy="1053.65" r="12.0"/><circle cx="1482.98" cy="1050.07" r="12.0"/><circle cx="1487" cy="1046.48" r="12.0"/><circle cx="1491.03" cy="1042.89" r="12.0"/><circle cx="1495.06" cy="1039.3" r="12.0"/><circle cx="1499.09" cy="1035.7" r="12.0"/><circle cx="1503.12" cy="1032.09" r="12.0"/><circle cx="1507.15" cy="1028.48" r="12.0"/><circle cx="1511.17" cy="1024.87" r="12.0"/><circle cx="1515.2" cy="1021.25" r="12.0"/><circle cx="1519.23" cy="1017.63" r="12.0"/><circle cx="1523.26" cy="1506.12" r="12.0"/><circle cx="1527.29" cy="1500.16" r="12.0"/><circle cx="1531.32" cy="1494.19" r="12.0"/><circle cx="1535.34" cy="1488.21" r="12.0"/><circle cx="1539.37" cy="1482.21" r="12.0"/><circle cx="1543.4" cy="1476.19" r="12.0"/><circle cx="1547.43" cy="1470.15" r="12.0"/><circle cx="1551.46" cy="1464.1" r="12.0"/><circle cx="1555.48" cy="1458.01" r="12.0"/><circle cx="1559.51" cy="1451.9" r="12.0"/><circle cx="1563.54" cy="1445.77" r="12.0"/><circle cx="1567.57" cy="1439.6" r="12.0"/><circle cx="1571.6" cy="1433.39" r="12.0"/><circle cx="1575.63" cy="1427.15" r="12.0"/><circle cx="1579.65" cy="1420.86" r="12.0"/><circle cx="1583.68" cy="1414.52" r="12.0"/><circle cx="1587.71" cy="1111.58" r="12.0"/><circle cx="1591.74" cy="1108.3" r="12.0"/><circle cx="1595.77" cy="1105" r="12.0"/><circle cx="1599.8" cy="1101.69" r="12.0"/><circle cx="1603.82" cy="1098.37" r="12.0"/><circle cx="1607.85" cy="1095.03" r="12.0"/><circle cx="1611.88" cy="1091.69" r="12.0"/><circle cx="1615.91" cy="1088.33" r="12.0"/><circle cx="1619.94" cy="1084.96" r="12.0"/><circle cx="1623.96" cy="1081.59" r="12.0"/><circle cx="1627.99" cy="1078.2" r="12.0"/><circle cx="1632.02" cy="1074.81" r="12.0"/><circle cx="1636.05" cy="1071.41" r="12.0"/><circle cx="1640.08" cy="1068" r="12.0"/><circle cx="1644.11" cy="1064.58" r="12.0"/><circle cx="1648.13" cy="1061.16" r="12.0"/><circle cx="1652.16" cy="1057.73" r="12.0"/><circle cx="1656.19" cy="1054.29" r="12.0"/><circle cx="1660.22" cy="1050.85" r="12.0"/><circle cx="1664.25" cy="1047.4" r="12.0"/><circle cx="1668.28" cy="1043.94" r="12.0"/><circle cx="1672.3" cy="1040.49" r="12.0"/><circle cx="1676.33" cy="1037.02" r="12.0"/><circle cx="1680.36" cy="1033.56" r="12.0"/><circle cx="1684.39" cy="1030.09" r="12.0"/><circle cx="1688.42" cy="1026.61" r="12.0"/><circle cx="1692.44" cy="1493.36" r="12.0"/><circle cx="1696.47" cy="1487.67" r="12.0"/><circle cx="1700.5" cy="1481.98" r="12.0"/><circle cx="1704.53" cy="1476.27" r="12.0"/><circle cx="1708.56" cy="1470.54" r="12.0"/><circle cx="1712.59" cy="1464.79" r="12.0"/><circle cx="1716.61" cy="1459.03" r="12.0"/><circle cx="1720.64" cy="1453.25" r="12.0"/><circle cx="1724.67" cy="1447.44" r="12.0"/><circle cx="1728.7" cy="1441.6" r="12.0"/><circle cx="1732.73" cy="1435.74" r="12.0"/><circle cx="1736.76" cy="1429.85" r="12.0"/><circle cx="1740.78" cy="1423.92" r="12.0"/><circle cx="1744.81" cy="1417.95" r="12.0"/><circle cx="1748.84" cy="1411.94" r="12.0"/><circle cx="1752.87" cy="1405.89" r="12.0"/><circle cx="1756.9" cy="1116.52" r="12.0"/><circle cx="1760.93" cy="1113.36" r="12.0"/><circle cx="1764.95" cy="1110.2" r="12.0"/><circle cx="1768.98" cy="1107.02" r="12.0"/><circle cx="1773.01" cy="1103.83" r="12.0"/><circle cx="1777.04" cy="1100.63" r="12.0"/><circle cx="1781.07" cy="1097.41" r="12.0"/><circle cx="1785.09" cy="1094.19" r="12.0"/><circle cx="1789.12" cy="1090.96" r="12.0"/><circle cx="1793.15" cy="1087.72" r="12.0"/><circle cx="1797.18" cy="1084.47" r="12.0"/><circle cx="1801.21" cy="1081.21" r="12.0"/><circle cx="1805.24" cy="1077.94" r="12.0"/><circle cx="1809.26" cy="1074.67" r="12.0"/><circle cx="1813.29" cy="1071.38" r="12.0"/><circle cx="1817.32" cy="1068.1" r="12.0"/><circle cx="1821.35" cy="1064.8" r="12.0"/><circle cx="1825.38" cy="1061.5" r="12.0"/><circle cx="1829.41" cy="1058.19" r="12.0"/><circle cx="1833.43" cy="1054.88" r="12.0"/><circle cx="1837.46" cy="1051.57" r="12.0"/><circle cx="1841.49" cy="1048.24" r="12.0"/><circle cx="1845.52" cy="1044.92" r="12.0"/><circle cx="1849.55" cy="1041.59" r="12.0"/><circle cx="1853.57" cy="1038.25" r="12.0"/><circle cx="1857.6" cy="1034.92" r="12.0"/><circle cx="1861.63" cy="1481.77" r="12.0"/><circle cx="1865.66" cy="1476.33" r="12.0"/><circle cx="1869.69" cy="1470.89" r="12.0"/><circle cx="1873.72" cy="1465.42" r="12.0"/><circle cx="1877.74" cy="1459.95" r="12.0"/><circle cx="1881.77" cy="1454.45" r="12.0"/><circle cx="1885.8" cy="1448.94" r="12.0"/><circle cx="1889.83" cy="1443.41" r="12.0"/><circle cx="1893.86" cy="1437.85" r="12.0"/><circle cx="1897.89" cy="1432.27" r="12.0"/><circle cx="1901.91" cy="1426.66" r="12.0"/><circle cx="1905.94" cy="1421.02" r="12.0"/><circle cx="1909.97" cy="1415.34" r="12.0"/><circle cx="1914" cy="1409.63" r="12.0"/><circle cx="1918.03" cy="1403.88" r="12.0"/><circle cx="1922.06" cy="1398.08" r="12.0"/><circle cx="1926.08" cy="1121.11" r="12.0"/><circle cx="1930.11" cy="1118.07" r="12.0"/><circle cx="1934.14" cy="1115.03" r="12.0"/><circle cx="1938.17" cy="1111.97" r="12.0"/><circle cx="1942.2" cy="1108.9" r="12.0"/><circle cx="1946.22" cy="1105.82" r="12.0"/><circle cx="1950.25" cy="1102.73" r="12.0"/><circle cx="1954.28" cy="1099.63" r="12.0"/><circle cx="1958.31" cy="1096.52" r="12.0"/><circle cx="1962.34" cy="1093.41" r="12.0"/><circle cx="1966.37" cy="1090.28" r="12.0"/><circle cx="1970.39" cy="1087.15" r="12.0"/><circle cx="1974.42" cy="1084" r="12.0"/><circle cx="1978.45" cy="1080.85" r="12.0"/><circle cx="1982.48" cy="1077.7" r="12.0"/><circle cx="1986.51" cy="1074.53" r="12.0"/><circle cx="1990.54" cy="1071.36" r="12.0"/><circle cx="1994.56" cy="1068.19" r="12.0"/><circle cx="1998.59" cy="1065.01" r="12.0"/><circle cx="2002.62" cy="1061.82" r="12.0"/><circle cx="2006.65" cy="1058.63" r="12.0"/><circle cx="2010.68" cy="1055.44" r="12.0"/><circle cx="2014.7" cy="1052.23" r="12.0"/><circle cx="2018.73" cy="1049.03" r="12.0"/><circle cx="2022.76" cy="1045.82" r="12.0"/><circle cx="2026.79" cy="1476.39" r="12.0"/><circle cx="2030.82" cy="1471.2" r="12.0"/><circle cx="2034.85" cy="1466" r="12.0"/><circle cx="2038.87" cy="1460.78" r="12.0"/><circle cx="2042.9" cy="1455.55" r="12.0"/><circle cx="2046.93" cy="1450.3" r="12.0"/><circle cx="2050.96" cy="1445.03" r="12.0"/><circle cx="2054.99" cy="1439.75" r="12.0"/><circle cx="2059.02" cy="1434.45" r="12.0"/><circle cx="2063.04" cy="1429.12" r="12.0"/><circle cx="2067.07" cy="1423.77" r="12.0"/><circle cx="2071.1" cy="1418.39" r="12.0"/><circle cx="2075.13" cy="1412.98" r="12.0"/><circle cx="2079.16" cy="1407.54" r="12.0"/><circle cx="2083.19" cy="1402.07" r="12.0"/><circle cx="2087.21" cy="1396.56" r="12.0"/><circle cx="2091.24" cy="1128.29" r="12.0"/><circle cx="2095.27" cy="1125.38" r="12.0"/><circle cx="2099.3" cy="1122.46" r="12.0"/><circle cx="2103.33" cy="1119.53" r="12.0"/><circle cx="2107.35" cy="1116.58" r="12.0"/><circle cx="2111.38" cy="1113.63" r="12.0"/><circle cx="2115.41" cy="1110.66" r="12.0"/><circle cx="2119.44" cy="1107.69" r="12.0"/><circle cx="2123.47" cy="1104.7" r="12.0"/><circle cx="2127.5" cy="1101.71" r="12.0"/><circle cx="2131.52" cy="1098.7" r="12.0"/><circle cx="2135.55" cy="1095.69" r="12.0"/><circle cx="2139.58" cy="1092.67" r="12.0"/><circle cx="2143.61" cy="1089.64" r="12.0"/><circle cx="2147.64" cy="1086.61" r="12.0"/><circle cx="2151.67" cy="1083.57" r="12.0"/><circle cx="2155.69" cy="1080.52" r="12.0"/><circle cx="2159.72" cy="1077.47" r="12.0"/><circle cx="2163.75" cy="1074.41" r="12.0"/><circle cx="2167.78" cy="1071.35" r="12.0"/><circle cx="2171.81" cy="1068.28" r="12.0"/><circle cx="2175.84" cy="1065.2" r="12.0"/><circle cx="2179.86" cy="1062.12" r="12.0"/><circle cx="2183.89" cy="1059.04" r="12.0"/><circle cx="2187.92" cy="1055.95" r="12.0"/><circle cx="2191.95" cy="1052.86" r="12.0"/><circle cx="2195.98" cy="1466.52" r="12.0"/><circle cx="2200" cy="1461.53" r="12.0"/><circle cx="2204.03" cy="1456.54" r="12.0"/><circle cx="2208.06" cy="1451.53" r="12.0"/><circle cx="2212.09" cy="1446.51" r="12.0"/><circle cx="2216.12" cy="1441.47" r="12.0"/><circle cx="2220.15" cy="1436.42" r="12.0"/><circle cx="2224.17" cy="1431.35" r="12.0"/><circle cx="2228.2" cy="1426.26" r="12.0"/><circle cx="2232.23" cy="1421.14" r="12.0"/><circle cx="2236.26" cy="1416.01" r="12.0"/><circle cx="2240.29" cy="1410.85" r="12.0"/><circle cx="2244.32" cy="1405.65" r="12.0"/><circle cx="2248.34" cy="1400.43" r="12.0"/><circle cx="2252.37" cy="1395.18" r="12.0"/><circle cx="2256.4" cy="1389.88" r="12.0"/></g>
<text class="pl" x="979" y="111.8">(a)</text>
<text class="pl" x="980.4" y="938.8">(b)</text>
<text class="pl" x="2119.9" y="103.8">(c)</text>
<text class="pl" x="2134.9" y="949">(d)</text>
<text x="779" y="345" style="font-weight:bold;font-size:65px;fill:#D95319">M</text>
<text x="833.6" y="378.1" style="font-weight:bold;font-size:53px;fill:#D95319">2</text>
<text x="690.1" y="540" style="font-weight:bold;font-size:65px;fill:#0072BD">M</text>
<text x="743.9" y="571.9" style="font-weight:bold;font-size:53px;fill:#0072BD">1</text>
<g transform="translate(516.4,882.7)"><text x="-4.4" y="0" style="font-size:71.0px">(</text><text x="18.7" y="0" class="gr" style="font-size:68.4px">ω</text><text x="65.2" y="35.5" style="font-size:56.8px">0</text><text x="117.2" y="0" style="font-size:71.0px">-</text><text x="160.6" y="0" class="gr" style="font-size:68.4px">ω</text><text x="207.5" y="35.5" style="font-size:56.8px">r</text><text x="228.8" y="0" style="font-size:71.0px">)</text><text x="271.7" y="0" style="font-size:71.0px">/</text><text transform="translate(311.3,0) scale(1.16,1)" style="font-family:'DejaVu Sans',sans-serif;font-weight:200;font-size:62px">γ</text><text x="348.8" y="35.5" style="font-size:56.8px">T</text></g>
<g transform="translate(516.4,1715.8000000000002)"><text x="-4.4" y="0" style="font-size:71.0px">(</text><text x="18.7" y="0" class="gr" style="font-size:68.4px">ω</text><text x="65.2" y="35.5" style="font-size:56.8px">0</text><text x="117.2" y="0" style="font-size:71.0px">-</text><text x="160.6" y="0" class="gr" style="font-size:68.4px">ω</text><text x="207.5" y="35.5" style="font-size:56.8px">r</text><text x="228.8" y="0" style="font-size:71.0px">)</text><text x="271.7" y="0" style="font-size:71.0px">/</text><text transform="translate(311.3,0) scale(1.16,1)" style="font-family:'DejaVu Sans',sans-serif;font-weight:200;font-size:62px">γ</text><text x="348.8" y="35.5" style="font-size:56.8px">T</text></g>
<g transform="translate(101.9,1453.6) rotate(-90)"><text x="-4.4" y="0" style="font-size:71.0px">(</text><text x="17.7" y="0" class="gr" style="font-size:68.4px">ω</text><text x="64.2" y="35.5" style="font-size:56.8px">0</text><text x="116.2" y="0" style="font-size:71.0px">-</text><text x="159.6" y="0" class="gr" style="font-size:68.4px">ω</text><text x="206" y="35.5" style="font-size:56.8px">s</text><text x="236.9" y="0" style="font-size:71.0px">)</text><text x="279.8" y="0" style="font-size:71.0px">/</text><text transform="translate(319.4,0) scale(1.16,1)" style="font-family:'DejaVu Sans',sans-serif;font-weight:200;font-size:62px">γ</text><text x="356.9" y="35.5" style="font-size:56.8px">T</text></g>
<g transform="translate(1268.1,1453.6) rotate(-90)"><text x="-4.4" y="0" style="font-size:71.0px">(</text><text x="17.7" y="0" class="gr" style="font-size:68.4px">ω</text><text x="64.2" y="35.5" style="font-size:56.8px">0</text><text x="116.2" y="0" style="font-size:71.0px">-</text><text x="159.6" y="0" class="gr" style="font-size:68.4px">ω</text><text x="206" y="35.5" style="font-size:56.8px">s</text><text x="236.9" y="0" style="font-size:71.0px">)</text><text x="279.8" y="0" style="font-size:71.0px">/</text><text transform="translate(319.4,0) scale(1.16,1)" style="font-family:'DejaVu Sans',sans-serif;font-weight:200;font-size:62px">γ</text><text x="356.9" y="35.5" style="font-size:56.8px">T</text></g>
<g transform="translate(1766.15,882.7)"><text x="0" y="0" style="font-size:71.0px">L / L</text><text x="140.3" y="36" style="font-size:56.8px">r</text></g>
<g transform="translate(1774.5,1715.7)"><text x="0" y="0" style="font-size:71.0px">L / L</text><text x="140.3" y="36" style="font-size:56.8px">r</text></g>
<g transform="translate(105.2,620) rotate(-90)"><text x="-1.5" y="0" style="font-family:'Liberation Serif',serif;font-size:75.5px">Γ</text><text x="43.6" y="35.3" style="font-size:56.8px">y</text><text x="91.3" y="0" style="font-size:71.0px">g</text><text x="132.2" y="35.3" style="font-size:56.8px">th</text><text x="201.1" y="0" style="font-size:71.0px">[cm</text><text x="316.7" y="-35.4" style="font-size:56.8px">-1</text><text x="370" y="0" style="font-size:71.0px">]</text></g>
<g transform="translate(1245.2,620) rotate(-90)"><text x="-1.5" y="0" style="font-family:'Liberation Serif',serif;font-size:75.5px">Γ</text><text x="43.6" y="35.3" style="font-size:56.8px">y</text><text x="91.3" y="0" style="font-size:71.0px">g</text><text x="132.2" y="35.3" style="font-size:56.8px">th</text><text x="201.1" y="0" style="font-size:71.0px">[cm</text><text x="316.7" y="-35.4" style="font-size:56.8px">-1</text><text x="370" y="0" style="font-size:71.0px">]</text></g>
</svg></body></html>
